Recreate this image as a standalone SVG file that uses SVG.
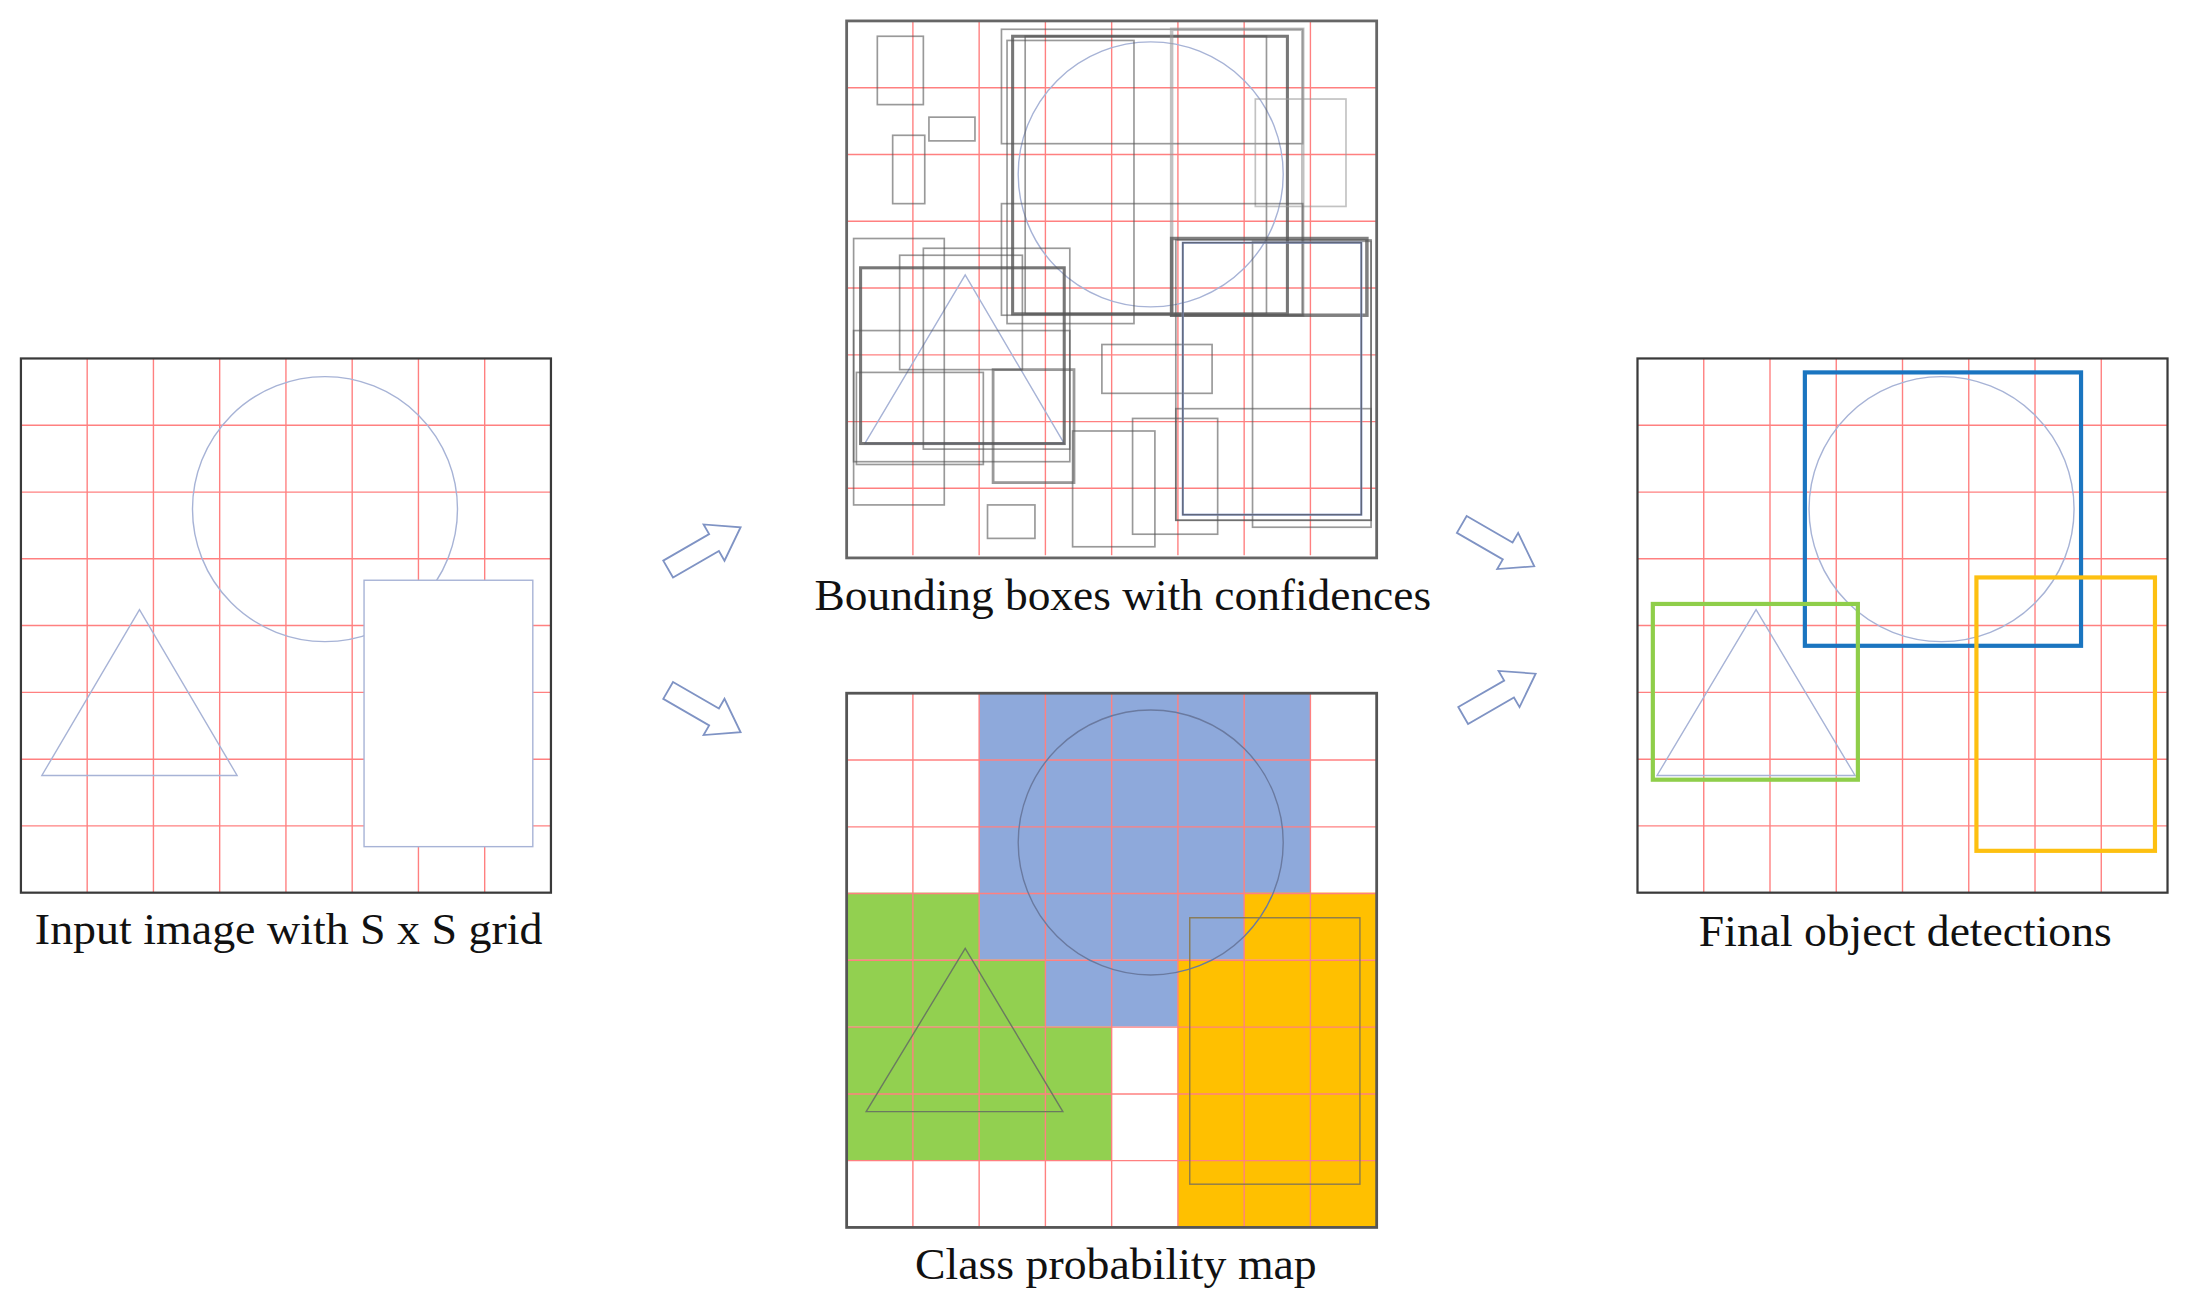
<svg xmlns="http://www.w3.org/2000/svg" width="2187" height="1304" viewBox="0 0 2187 1304">
<defs>
<style>
.frame{fill:none;stroke:#3a3a3a;stroke-width:1.6}
.grid line{stroke:#ff8080;stroke-width:1}
.shape{fill:none;stroke:#a7b3d6;stroke-width:1}
.bb rect{fill:none;stroke:#555;stroke-opacity:0.6;stroke-width:1.2}
.lbl{font-family:"Liberation Serif","Times New Roman",serif;font-size:32px;fill:#111;text-anchor:middle}
.arrow{fill:#fff;stroke:#7f93c4;stroke-width:1.3}
</style>
<g id="gridpat" class="grid">
<line x1="47.5" y1="0" x2="47.5" y2="383"/><line x1="95" y1="0" x2="95" y2="383"/><line x1="142.5" y1="0" x2="142.5" y2="383"/><line x1="190" y1="0" x2="190" y2="383"/><line x1="237.5" y1="0" x2="237.5" y2="383"/><line x1="285" y1="0" x2="285" y2="383"/><line x1="332.5" y1="0" x2="332.5" y2="383"/>
<line x1="0" y1="47.9" x2="380" y2="47.9"/><line x1="0" y1="95.8" x2="380" y2="95.8"/><line x1="0" y1="143.6" x2="380" y2="143.6"/><line x1="0" y1="191.5" x2="380" y2="191.5"/><line x1="0" y1="239.4" x2="380" y2="239.4"/><line x1="0" y1="287.3" x2="380" y2="287.3"/><line x1="0" y1="335.1" x2="380" y2="335.1"/>
</g>
<path id="arr" d="M-30,-7 L8,-7 L8,-15 L30,0 L8,15 L8,7 L-30,7 Z"/>
</defs>
<rect width="2187" height="1304" fill="#fff"/>
<g transform="scale(1.3948)">
<g id="input">
<g transform="translate(15,257)"><use href="#gridpat"/><rect class="frame" width="380" height="383"/></g>
<circle class="shape" cx="233" cy="365" r="95"/>
<rect class="shape" x="261" y="416" width="121" height="191" style="fill:#fff"/>
<polygon class="shape" points="30,556 170,556 100,437"/>
<text class="lbl" x="207" y="677" textLength="364" lengthAdjust="spacingAndGlyphs">Input image with S x S grid</text>
</g>
<g id="bboxes">
<g transform="translate(607,15)"><use href="#gridpat"/></g>
<circle class="shape" cx="825" cy="125" r="95"/>
<polygon class="shape" points="620,318 763,318 692,197"/>
<g class="bb">
<rect x="629" y="26" width="33" height="49"/>
<rect x="666" y="84" width="33" height="17"/>
<rect x="640" y="97" width="23" height="49"/>
<rect x="718" y="21" width="216" height="82"/>
<rect x="726" y="26" width="197" height="199" style="stroke-width:2.2;stroke-opacity:0.8"/>
<rect x="722" y="29" width="91" height="203"/>
<rect x="735" y="26" width="173" height="199"/>
<rect x="840" y="21" width="94" height="205" style="stroke:#999;stroke-width:2.5"/>
<rect x="900" y="71" width="65" height="77" style="stroke:#999"/>
<rect x="718" y="146" width="216" height="80"/>
<rect x="612" y="171" width="65" height="191"/>
<rect x="645" y="183" width="88" height="82"/>
<rect x="662" y="178" width="105" height="144"/>
<rect x="617" y="192" width="146" height="126" style="stroke-width:2.2;stroke-opacity:0.8"/>
<rect x="612" y="237" width="155" height="94"/>
<rect x="614" y="267" width="91" height="66"/>
<rect x="712" y="265" width="58" height="81" style="stroke-width:2"/>
<rect x="790" y="247" width="79" height="35"/>
<rect x="840" y="171" width="140" height="55" style="stroke-width:2.5;stroke-opacity:0.75"/>
<rect x="843" y="172" width="140" height="201"/>
<rect x="898" y="173" width="85" height="205"/>
<rect x="843" y="293" width="140" height="80"/>
<rect x="812" y="300" width="61" height="83"/>
<rect x="769" y="309" width="59" height="83"/>
<rect x="708" y="362" width="34" height="24"/>
</g>
<rect x="848" y="174" width="128" height="195" fill="none" stroke="#8a9ccc" stroke-width="1.5"/>
<rect x="848" y="174" width="128" height="195" fill="none" stroke="#444" stroke-width="1" stroke-opacity="0.6"/>
<rect class="frame" x="607" y="15" width="380" height="385" style="stroke:#666;stroke-width:2"/>
<text class="lbl" x="805" y="437" textLength="442" lengthAdjust="spacingAndGlyphs">Bounding boxes with confidences</text>
</g>
<g id="classmap">
<g fill="#8ea9db">
<rect x="702" y="497" width="237.5" height="143.6"/>
<rect x="702" y="640" width="190" height="48"/>
<rect x="749.5" y="688" width="95" height="48"/>
</g>
<g fill="#92d050">
<rect x="607" y="640" width="95" height="48"/>
<rect x="607" y="688" width="142.5" height="48"/>
<rect x="607" y="736" width="190" height="96"/>
</g>
<g fill="#ffc000">
<rect x="892" y="640" width="95" height="48"/>
<rect x="844.5" y="688" width="142.5" height="192"/>
</g>
<g transform="translate(607,497)"><use href="#gridpat"/></g>
<circle cx="825" cy="604" r="95" fill="none" stroke="#6a7aa0" stroke-width="1"/>
<polygon points="621,797 762,797 692,680" fill="none" stroke="#6a7a60" stroke-width="1"/>
<rect x="853" y="658" width="122" height="191" fill="none" stroke="#8a7a50" stroke-width="1"/>
<rect class="frame" x="607" y="497" width="380" height="383" style="stroke:#555;stroke-width:2"/>
<text class="lbl" x="800" y="917" textLength="288" lengthAdjust="spacingAndGlyphs">Class probability map</text>
</g>
<g id="final">
<g transform="translate(1174,257)"><use href="#gridpat"/><rect class="frame" width="380" height="383"/></g>
<circle class="shape" cx="1392" cy="365" r="95"/>
<polygon class="shape" points="1188,556 1330,556 1259,437"/>
<rect x="1294" y="267" width="198" height="196" fill="none" stroke="#1a75c0" stroke-width="3"/>
<rect x="1185" y="433" width="147" height="126" fill="none" stroke="#8fce4a" stroke-width="3"/>
<rect x="1417" y="414" width="128" height="196" fill="none" stroke="#fdc011" stroke-width="3"/>
<text class="lbl" x="1366" y="678" textLength="296" lengthAdjust="spacingAndGlyphs">Final object detections</text>
</g>
<g id="connectors">
<use href="#arr" class="arrow" transform="translate(505,393) rotate(-30)"/>
<use href="#arr" class="arrow" transform="translate(505,510) rotate(30)"/>
<use href="#arr" class="arrow" transform="translate(1074,391) rotate(30)"/>
<use href="#arr" class="arrow" transform="translate(1075,498) rotate(-30)"/>
</g>
</g>
</svg>
